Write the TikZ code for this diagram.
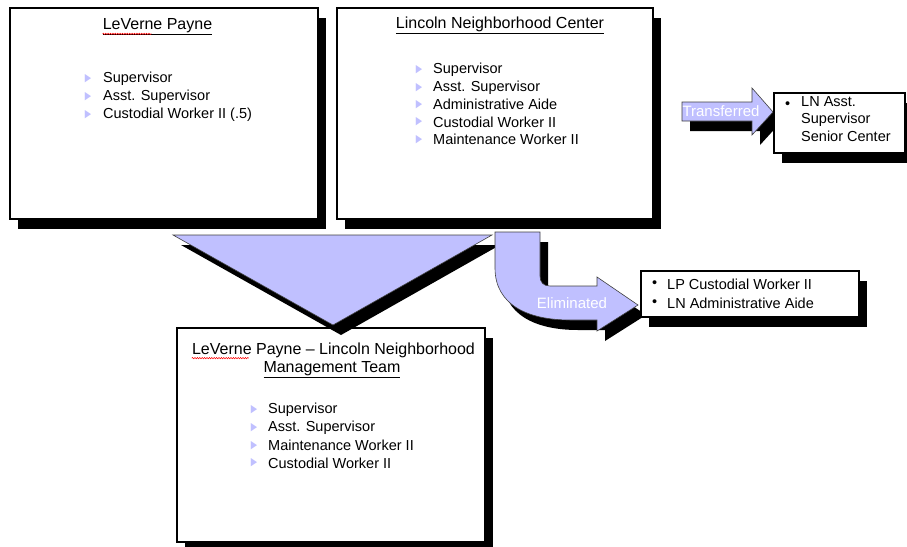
\documentclass[tikz,border=0pt]{standalone}
\usepackage{fontspec}
\setmainfont{Liberation Sans}
\newfontfamily\dejavu{DejaVu Sans}
\usetikzlibrary{shadows,decorations.pathmorphing}
\definecolor{lav}{RGB}{192,192,255}

\begin{document}
\begin{tikzpicture}[x=1pt,y=-1pt]
\tikzstyle{shad}=[drop shadow={shadow xshift=8pt,shadow yshift=-10pt,fill=black,opacity=1}]
\tikzstyle{panel}=[draw, line width=1.2pt, fill=white, shad, inner sep=0]
\tikzstyle{ttl}=[font=\fontsize{16}{19}\selectfont, inner sep=0]
\tikzstyle{itm}=[font=\fontsize{14.5}{17.5}\selectfont, anchor=west, inner sep=0]
\tikzstyle{bul}=[font=\dejavu\fontsize{11}{11}\selectfont, text=lav, inner sep=0, xscale=0.75]
\tikzstyle{arr}=[fill=lav, draw=black!75, line width=0.6pt, shad]
\tikzstyle{lbl}=[font=\fontsize{15}{18}\selectfont, text=white, inner sep=0]
\tikzstyle{squig}=[red, line width=0.5pt, decorate, decoration={snake, amplitude=0.7pt, segment length=2.4pt}]
\useasboundingbox (0,0) rectangle (907,546);

    \node[panel, minimum width=308pt, minimum height=211pt] (lp) at (164,113.5) {};
    \node[ttl] (lpttl) at (157.5,27) {\underline{LeVerne Payne}};
    \draw[squig] ([yshift=-4pt]lpttl.base west) -- ++(49,0);
    \foreach \t [count=\i] in {Supervisor, Asst. Supervisor, Custodial Worker II (.5)} {
        \node[bul] (lpb\i) at (88,61+18*\i) {▶};
        \node[itm] (lpi\i) at (103,61+18*\i) {\t};
    }

    \node[panel, minimum width=316pt, minimum height=211pt] (ln) at (495,113.5) {};
    \node[ttl] (lnttl) at (500,25) {\underline{Lincoln Neighborhood Center}};
    \foreach \t [count=\i] in {Supervisor, Asst. Supervisor, Administrative Aide, Custodial Worker II, Maintenance Worker II} {
        \node[bul] (lnb\i) at (419,52.7+17.3*\i) {▶};
        \node[itm] (lni\i) at (433,52.7+17.3*\i) {\t};
    }

    \draw[arr] (682,102) -- (752,102) -- (752,88) -- (773,112) -- (752,135) -- (752,121) -- (682,121) -- cycle;
    \node[lbl] (trl) at (721,111) {Transferred};

    \node[panel, minimum width=131pt, minimum height=60pt] (tb) at (839.5,123) {};
    \node[itm] (tbd) at (785,105) {•};
    \node[itm, anchor=north west, align=left] (tbt) at (801,96) {LN Asst.\\Supervisor\\Senior Center};

    \node[panel, minimum width=308pt, minimum height=214pt] (mt) at (331,435) {};
    \node[ttl] (mt1) at (333.5,350) {LeVerne Payne -- Lincoln Neighborhood};
    \node[ttl] (mt2) at (332,370) {\underline{Management Team}};
    \draw[squig] ([yshift=-4pt]mt1.base west) -- ++(57,0);
    \foreach \t [count=\i] in {Supervisor, Asst. Supervisor, Maintenance Worker II, Custodial Worker II} {
        \node[bul] (mtb\i) at (254,392.5+17.6*\i) {▶};
        \node[itm] (mti\i) at (268,392.5+17.6*\i) {\t};
    }

    \draw[arr] (173,235) -- (492,235) -- (333,325) -- cycle;

    \draw[arr] (495,232) -- (540,232) -- (540,276) .. controls (540,282) and (543,286) .. (550,286) -- (597,286) -- (597,277) -- (638,305) -- (597,331) -- (597,320) -- (570,320) .. controls (528,320) and (495,305) .. (495,268) -- cycle;
    \node[lbl] (ell) at (572,303) {Eliminated};

    \node[panel, minimum width=218pt, minimum height=46pt] (eb) at (750,294) {};
    \foreach \t [count=\i] in {LP Custodial Worker II, LN Administrative Aide} {
        \node[itm] (ebd\i) at (652,265+19*\i) {•};
        \node[itm] (ebi\i) at (667,265+19*\i) {\t};
    }
\end{tikzpicture}
\end{document}
